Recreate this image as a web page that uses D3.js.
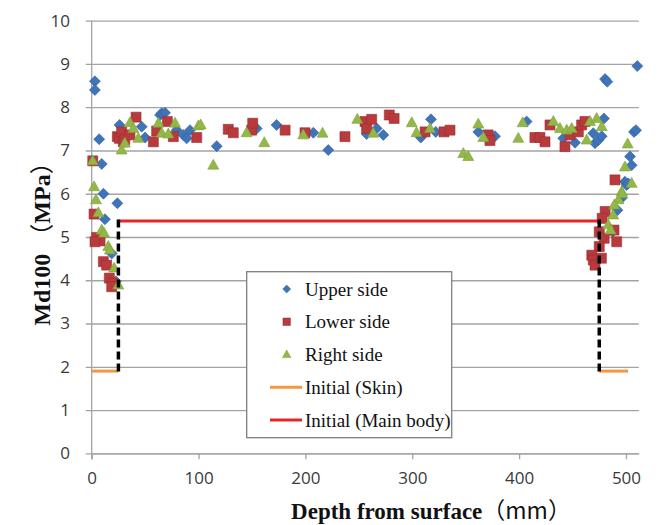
<!DOCTYPE html>
<html lang="en">
<head>
<meta charset="UTF-8">
<title>Md100 vs depth</title>
<script src="https://d3js.org/d3.v7.min.js"></script>
<style>
  body { margin: 0; background: #fff; }
  svg { display: block; }
</style>
</head>
<body>
<script>
// ---- data: [depth mm, Md100 MPa] ----
var upperSide = [
  [3, 8.6], [3, 8.4], [7, 7.26], [9.4, 6.69], [11, 6.0], [24, 5.78], [12.4, 5.41], [18.7, 4.62], [22.7, 3.97],
  [26, 7.59], [46.8, 7.55], [50, 7.3], [64, 7.82], [65.5, 7.86], [68.6, 7.87], [79.5, 7.47], [85.7, 7.36],
  [88.9, 7.28], [92, 7.47], [117, 7.1], [154.4, 7.51], [173, 7.59], [207.4, 7.41], [221.4, 7.01], [257.3, 7.38],
  [266.7, 7.51], [272.9, 7.36], [308, 7.3], [317.5, 7.72], [322, 7.43], [361.8, 7.43], [377.4, 7.33], [407, 7.67],
  [441.3, 7.28], [452.3, 7.18], [469.4, 7.4], [471, 7.17], [474.2, 7.24], [477.3, 7.33], [479.4, 7.74],
  [480.4, 8.65], [482.5, 8.59], [510.6, 8.95], [507.5, 7.43], [509.4, 7.47], [503.8, 6.86], [505.3, 6.66],
  [499, 6.28], [500.6, 6.2], [502, 6.24], [496, 5.9], [492, 5.62], [487.5, 5.12]
];
var lowerSide = [
  [1, 6.76], [2.2, 5.53], [4.7, 4.99], [7.8, 4.91], [3.1, 4.89], [10.9, 4.43], [14, 4.35], [16.5, 4.05],
  [20.2, 3.93], [18.7, 3.85],
  [24, 7.32], [26, 7.28], [28, 7.43], [29.6, 7.2], [31, 7.25], [35.8, 7.36], [41.5, 7.77], [57.7, 7.2],
  [60.8, 7.45], [70.8, 7.67], [76.4, 7.32], [98.3, 7.3], [127.8, 7.49], [132.5, 7.41], [149.7, 7.47],
  [150.7, 7.63], [181, 7.47], [199.6, 7.41], [237, 7.32], [255.8, 7.67], [257.3, 7.51], [262, 7.72],
  [278.5, 7.82], [283, 7.74], [312, 7.43], [329.7, 7.43], [335.3, 7.47], [371, 7.36], [372.7, 7.23],
  [414.8, 7.3], [419.5, 7.3], [424.2, 7.2], [428.9, 7.59], [442.9, 7.09], [447.6, 7.36], [455.4, 7.43],
  [458.5, 7.59], [461.6, 7.67],
  [489.7, 6.32], [480.5, 5.59], [477.7, 5.43], [475, 5.12], [479.6, 4.97], [488.8, 5.16], [491.3, 4.89],
  [475, 4.78], [468, 4.58], [469.4, 4.47], [471, 4.35], [477, 4.51]
];
var rightSide = [
  [1, 6.76], [2.2, 6.16], [4, 5.86], [6.2, 5.56], [9.4, 5.16], [11.5, 5.09], [15.5, 4.78], [17, 4.7],
  [21, 4.28], [24.9, 3.89],
  [28, 7.01], [31, 7.17], [35.8, 7.64], [39, 7.51], [43.6, 7.28], [62.4, 7.63], [65.5, 7.4], [71.7, 7.38],
  [78, 7.63], [99.8, 7.57], [102, 7.59], [113.8, 6.66], [145, 7.41], [161.5, 7.18], [198, 7.36], [216, 7.4],
  [248.6, 7.72], [263.5, 7.4], [299.5, 7.64], [304, 7.41], [316.6, 7.51], [347.8, 6.93], [352.4, 6.86],
  [361.8, 7.61], [366.5, 7.3], [399.2, 7.28], [403.3, 7.64], [432, 7.67], [438.2, 7.51], [444.5, 7.47],
  [449.2, 7.51], [463.2, 7.24], [466.3, 7.67], [472.6, 7.74], [477.3, 7.55],
  [501.6, 7.15], [499, 6.62], [505.3, 6.24], [496, 6.05], [496.5, 6.0], [493, 5.86], [489, 5.74],
  [488, 5.51], [483.4, 5.28], [485.6, 5.16]
];
var skinLeft = [[0, 1.9], [25, 1.9]];
var skinRight = [[475, 1.9], [502, 1.9]];
var mainBody = [[25, 5.37], [475, 5.37]];
var boundaryDepths = [25, 475];

var xTicks = [0, 100, 200, 300, 400, 500];
var yTicks = [0, 1, 2, 3, 4, 5, 6, 7, 8, 9, 10];

var legendLabels = ["Upper side", "Lower side", "Right side", "Initial (Skin)", "Initial (Main body)"];

// ---- setup ----
var width = 665, height = 525;
var svg = d3.select("body").append("svg").attr("width", width).attr("height", height);

var x = d3.scaleLinear().domain([0, 512]).range([91.7, 638.8]);
var y = d3.scaleLinear().domain([0, 10]).range([453.3, 20.7]);

var gridColor = "#a3a3a3";
var tickFont = "'Open Sans', sans-serif";
var serif = "'Liberation Serif', 'Times New Roman', 'Noto Sans CJK JP', serif";
var cjk = "'Noto Sans CJK JP', sans-serif";

// gridlines + y labels
var yAxis = d3.axisLeft(y).tickValues(yTicks).tickSizeInner(-(x.range()[1] - x.range()[0] + 6)).tickSizeOuter(0).tickPadding(15.7);
var gy = svg.append("g").attr("transform", "translate(" + (x.range()[0] - 6) + ",0)").call(yAxis);
gy.select(".domain").remove();
gy.selectAll("line").attr("stroke", gridColor).attr("stroke-width", 1.3);
gy.selectAll("text").attr("font-family", tickFont).attr("font-size", 17).attr("fill", "#3a3a3a");

// y axis line
svg.append("line")
  .attr("x1", x(0)).attr("x2", x(0)).attr("y1", y(0) + 6).attr("y2", y(10))
  .attr("stroke", gridColor).attr("stroke-width", 1.3);

// x axis
var xAxis = d3.axisBottom(x).tickValues(xTicks).tickFormat(d3.format("d")).tickSizeInner(6).tickSizeOuter(0).tickPadding(13);
var gx = svg.append("g").attr("transform", "translate(0," + y(0) + ")").call(xAxis);
gx.select(".domain").attr("stroke", gridColor).attr("stroke-width", 1.3);
gx.selectAll("line").attr("stroke", gridColor).attr("stroke-width", 1.3);
gx.selectAll("text").attr("font-family", tickFont).attr("font-size", 17).attr("fill", "#3a3a3a");

// ---- markers ----
function diamond(r) { return "M0," + (-r) + "L" + r + ",0L0," + r + "L" + (-r) + ",0Z"; }
function square(s) { var h = s / 2; return "M" + (-h) + "," + (-h) + "h" + s + "v" + s + "h" + (-s) + "Z"; }
function triangle(s) { var h = s * 0.9; return "M0," + (-h * 0.6) + "L" + (s / 2) + "," + (h * 0.4) + "L" + (-s / 2) + "," + (h * 0.4) + "Z"; }

var series = [
  { data: upperSide, fill: "#3f74b8", stroke: "#2f5f9e", shape: diamond(5.5), small: diamond(4) },
  { data: lowerSide, fill: "#b93a3d", stroke: "#9b2d30", shape: square(10), small: square(7.5) },
  { data: rightSide, fill: "#93b847", stroke: "#7ea03a", shape: triangle(11), small: triangle(8.5) }
];

series.forEach(function(s) {
  svg.append("g").selectAll("path")
    .data(s.data)
    .enter()
    .append("path")
    .attr("d", s.shape)
    .attr("transform", function(d) { return "translate(" + x(d[0]) + "," + y(d[1]) + ")"; })
    .attr("fill", s.fill)
    .attr("stroke", s.stroke)
    .attr("stroke-width", 0.6);
});

// ---- initial lines ----
var line = d3.line().x(function(d) { return x(d[0]); }).y(function(d) { return y(d[1]); });
[skinLeft, skinRight].forEach(function(d) {
  svg.append("path").attr("d", line(d)).attr("fill", "none").attr("stroke", "#f7963c").attr("stroke-width", 3);
});
svg.append("path").attr("d", line(mainBody)).attr("fill", "none").attr("stroke", "#e2262b").attr("stroke-width", 3);

// dashed boundaries
boundaryDepths.forEach(function(dep) {
  svg.append("line")
    .attr("x1", x(dep)).attr("x2", x(dep))
    .attr("y1", y(mainBody[0][1]) - 1.5).attr("y2", y(skinLeft[0][1]) + 1.5)
    .attr("stroke", "#000").attr("stroke-width", 3.5)
    .attr("stroke-dasharray", "8,4");
});

// ---- legend ----
var lg = svg.append("g");
lg.append("rect")
  .attr("x", 246.7).attr("y", 271.7).attr("width", 205).attr("height", 166)
  .attr("fill", "#fff").attr("stroke", "#7f7f7f").attr("stroke-width", 1.3);

var rowY = d3.scalePoint().domain(legendLabels).range([289, 420]);
series.forEach(function(s, i) {
  lg.append("path")
    .attr("d", s.small)
    .attr("transform", "translate(286.7," + rowY(legendLabels[i]) + ")")
    .attr("fill", s.fill).attr("stroke", s.stroke).attr("stroke-width", 0.5);
});
[["#f7963c", 3], ["#e2262b", 4]].forEach(function(c) {
  lg.append("line")
    .attr("x1", 270).attr("x2", 302)
    .attr("y1", rowY(legendLabels[c[1]])).attr("y2", rowY(legendLabels[c[1]]))
    .attr("stroke", c[0]).attr("stroke-width", 3);
});
lg.selectAll("text.lab")
  .data(legendLabels)
  .enter()
  .append("text")
  .attr("class", "lab")
  .attr("x", 305)
  .attr("y", function(d) { return rowY(d) + 6.5; })
  .attr("font-family", serif)
  .attr("font-size", 19)
  .attr("fill", "#111")
  .text(function(d) { return d; });

// ---- axis titles ----
var yt = svg.append("text")
  .attr("transform", "translate(50,238) rotate(-90)")
  .attr("text-anchor", "middle")
  .attr("font-family", serif)
  .attr("font-weight", "bold")
  .attr("font-size", 24)
  .attr("fill", "#111");
yt.append("tspan").text("Md100 ");
yt.append("tspan").attr("font-family", cjk).attr("font-weight", "normal").text("（");
yt.append("tspan").text("MPa");
yt.append("tspan").attr("font-family", cjk).attr("font-weight", "normal").text("）");

var xt = svg.append("text")
  .attr("x", 431).attr("y", 519)
  .attr("text-anchor", "middle")
  .attr("font-family", serif)
  .attr("font-weight", "bold")
  .attr("font-size", 23)
  .attr("fill", "#111");
xt.append("tspan").text("Depth from surface");
xt.append("tspan").attr("font-family", cjk).attr("font-weight", "normal").text("（mm）");
</script>
</body>
</html>
